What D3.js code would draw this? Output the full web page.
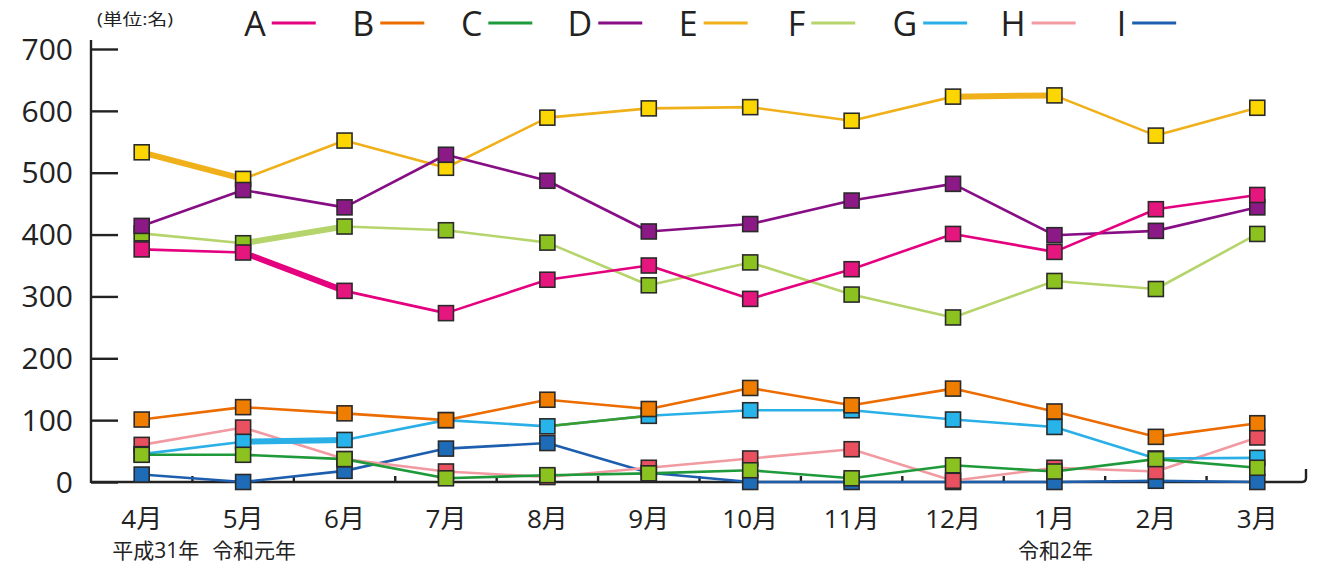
<!DOCTYPE html>
<html>
<head>
<meta charset="utf-8">
<script src="https://cdn.jsdelivr.net/npm/d3@7/dist/d3.min.js"></script>
<style>
  html, body { margin: 0; padding: 0; background: #fff; }
  svg { display: block; }
  text { font-family: "Open Sans", "Noto Sans CJK JP", sans-serif; fill: #222; }
</style>
</head>
<body>
<svg id="chart" width="1318" height="565"></svg>
<script>
// Months of the fiscal year (April 2019 – March 2020)
const months = ["4月", "5月", "6月", "7月", "8月", "9月", "10月", "11月", "12月", "1月", "2月", "3月"];
const seriesNames = ["A", "B", "C", "D", "E", "F", "G", "H", "I"];
const yTicks = [0, 100, 200, 300, 400, 500, 600, 700];
const unitLabel = "(単位:名)";
const eraLabels = [
  { month: "4月", text: "平成31年", dx: 14 },
  { month: "5月", text: "令和元年", dx: 11 },
  { month: "1月", text: "令和2年", dx: 1 }
];

// Monthly counts per group
const valuesA = [376, 371, 309, 273, 327, 350, 296, 344, 401, 372, 441, 464];
const valuesB = [101, 121, 111, 100, 133, 118, 152, 124, 151, 114, 73, 95];
const valuesC = [44, 44, 37, 6, 11, 14, 19, 6, 27, 17, 37, 23];
const valuesD = [414, 472, 444, 529, 487, 405, 417, 455, 482, 399, 406, 444];
const valuesE = [533, 490, 552, 508, 589, 604, 606, 584, 623, 625, 560, 605];
const valuesF = [402, 386, 413, 407, 387, 318, 355, 303, 266, 325, 312, 401];
const valuesG = [45, 65, 68, 100, 90, 107, 116, 116, 101, 89, 38, 39];
const valuesH = [60, 88, 37, 17, 8, 23, 38, 53, 2, 23, 17, 72];
const valuesI = [12, 0, 18, 54, 63, 15, 0, 0, 0, 0, 2, 0];

const seriesValues = [valuesA, valuesB, valuesC, valuesD, valuesE, valuesF, valuesG, valuesH, valuesI];

// Styling per group: line colour and marker fill
const lineColours =   ["#e4007f", "#ec6c00", "#1f9a3a", "#880e86", "#f0b01a", "#b6d46c", "#2ab0e6", "#f29aa2", "#1d5fae"];
const markerColours = ["#e5177f", "#ef7d00", "#8cc21f", "#8b1a86", "#fcd600", "#8cc21f", "#27b4ea", "#ea5160", "#1e6bb8"];

// Segments drawn heavier / in another colour (series index, starting month index)
const heavySegments = [[4, 0], [0, 1], [5, 1], [6, 1], [4, 8]];
const tintedSegments = [{ s: 6, i: 4, colour: "#3d9a2c" }];

const svg = d3.select("#chart");

const x = d3.scalePoint().domain(months).range([91, 1308]).padding(0.5);
const y = d3.scaleLinear().domain([0, 700]).range([482, 49]);
const step = x.step();

// --- Y axis ---
const yAxis = d3.axisLeft(y).tickValues(yTicks).tickSize(-27).tickPadding(18).tickSizeOuter(0);
const gy = svg.append("g").attr("transform", "translate(91,0)").call(yAxis);
gy.select(".domain").remove();
gy.selectAll(".tick line").attr("stroke", "#222").attr("stroke-width", 2.4);
gy.selectAll(".tick text").style("font-size", "30px").attr("fill", "#333").attr("dy", "0.34em");
svg.append("line").attr("x1", 91).attr("x2", 91).attr("y1", 40).attr("y2", y(0) + 1)
  .attr("stroke", "#222").attr("stroke-width", 2.4);

// --- X axis ---
svg.append("path")
  .attr("d", `M91,${y(0)}H1302Q1306,${y(0)} 1306,${y(0) - 4}V${y(0) - 13}`)
  .attr("fill", "none").attr("stroke", "#222").attr("stroke-width", 2.4);
const bounds = months.slice(1).map(m => x(m) - step / 2);
svg.append("g").selectAll("line").data(bounds).join("line")
  .attr("x1", d => d).attr("x2", d => d)
  .attr("y1", y(0)).attr("y2", y(0) - 6)
  .attr("stroke", "#222").attr("stroke-width", 2.4);

svg.append("g").selectAll("text").data(months).join("text")
  .attr("x", d => x(d)).attr("y", 528)
  .attr("text-anchor", "middle")
  .style("font-size", "26px")
  .attr("fill", "#333")
  .text(d => d);

svg.append("g").selectAll("text").data(eraLabels).join("text")
  .attr("x", d => x(d.month) + d.dx).attr("y", 558)
  .attr("text-anchor", "middle")
  .style("font-size", "21px")
  .attr("fill", "#333")
  .text(d => d.text);

svg.append("text").attr("x", 135).attr("y", 25).attr("text-anchor", "middle")
  .style("font-size", "16px").attr("fill", "#444")
  .attr("textLength", 76).attr("lengthAdjust", "spacingAndGlyphs")
  .text(unitLabel);

// --- Lines ---
const line = d3.line().x((d, i) => x(months[i])).y(d => y(d));
const order = d3.range(seriesNames.length).reverse();
const gLines = svg.append("g").attr("fill", "none").attr("stroke-linejoin", "round");

order.forEach(s => {
  gLines.append("path")
    .attr("d", line(seriesValues[s]))
    .attr("stroke", lineColours[s])
    .attr("stroke-width", 2.6);
});

heavySegments.forEach(([s, i]) => {
  const v = seriesValues[s];
  gLines.append("path")
    .attr("d", `M${x(months[i])},${y(v[i])}L${x(months[i + 1])},${y(v[i + 1])}`)
    .attr("stroke", lineColours[s]).attr("stroke-width", 6);
});

tintedSegments.forEach(({ s, i, colour }) => {
  const v = seriesValues[s];
  gLines.append("path")
    .attr("d", `M${x(months[i])},${y(v[i])}L${x(months[i + 1])},${y(v[i + 1])}`)
    .attr("stroke", colour).attr("stroke-width", 2.6);
});

// --- Markers ---
const ms = 15;
order.forEach(s => {
  svg.append("g").selectAll("rect").data(seriesValues[s]).join("rect")
    .attr("x", (d, i) => x(months[i]) - ms / 2)
    .attr("y", d => y(d) - ms / 2)
    .attr("width", ms).attr("height", ms)
    .attr("fill", markerColours[s])
    .attr("stroke", "#2a2a2a").attr("stroke-width", 1.6);
});

// --- Legend ---
const legend = svg.append("g");
seriesNames.forEach((name, i) => {
  const cx = 255 + i * 108.3;
  const t = legend.append("text").attr("x", cx).attr("y", 36)
    .attr("text-anchor", "middle").style("font-size", "34px").attr("fill", "#222").text(name);
  const w = t.node().getComputedTextLength();
  legend.append("line")
    .attr("x1", cx + w / 2 + 6).attr("x2", cx + w / 2 + 50)
    .attr("y1", 23).attr("y2", 23)
    .attr("stroke", lineColours[i]).attr("stroke-width", 3);
});
</script>
</body>
</html>
